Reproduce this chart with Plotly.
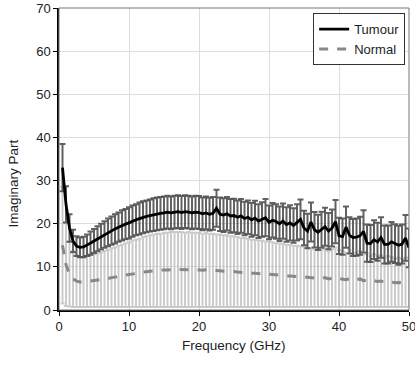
import numpy as np
import plotly.graph_objects as go

# Frequency grid (GHz): 0.5 .. 50 in 0.5 steps
freq = np.arange(1, 101) * 0.5

tumour_mean = [
    33.0, 24.5, 19.0, 16.0, 14.8, 14.5, 14.6, 15.0, 15.5, 16.0,
    16.5, 17.0, 17.5, 18.0, 18.4, 18.8, 19.2, 19.6, 19.9, 20.2,
    20.6, 20.9, 21.2, 21.5, 21.7, 21.9, 22.1, 22.3, 22.4, 22.5,
    22.7, 22.5, 22.7, 22.8, 22.6, 22.8, 22.7, 22.5, 22.7, 22.6,
    22.3, 22.5, 22.2, 22.4, 23.6, 22.2, 22.0, 22.3, 21.8, 21.9,
    21.5, 21.8, 21.2, 21.5, 20.9, 21.3, 20.6, 21.0, 21.4, 20.3,
    20.8, 20.5, 20.0, 20.6, 19.8, 20.2, 19.6, 20.3, 21.0, 19.0,
    18.3, 20.4, 18.6, 18.0, 18.6, 19.3, 18.3, 19.0, 20.5, 17.2,
    17.0, 19.2, 17.3, 16.8, 16.9, 17.2, 18.2, 15.5, 15.4, 16.3,
    15.8, 16.8, 15.2, 15.2, 15.8, 15.4, 15.0, 15.3, 16.7, 14.4,
]
tumour_sd = [
    5.5, 4.2, 3.2, 2.6, 2.3, 2.3, 2.4, 2.5, 2.7, 2.8,
    2.9, 3.0, 3.1, 3.2, 3.3, 3.4, 3.4, 3.5, 3.5, 3.6,
    3.6, 3.6, 3.7, 3.7, 3.7, 3.7, 3.8, 3.8, 3.8, 3.8,
    3.8, 3.8, 3.8, 3.8, 3.8, 3.8, 3.8, 3.8, 3.8, 3.8,
    3.8, 3.8, 3.8, 3.8, 4.3, 3.9, 3.9, 3.9, 3.9, 3.9,
    3.9, 3.9, 3.9, 3.9, 3.9, 4.0, 3.9, 4.0, 4.3, 3.9,
    4.0, 4.0, 4.0, 4.1, 4.0, 4.1, 4.0, 4.2, 4.6, 4.0,
    4.0, 4.5, 4.1, 4.1, 4.2, 4.4, 4.2, 4.3, 5.0, 4.2,
    4.2, 4.8, 4.2, 4.3, 4.3, 4.4, 4.9, 4.3, 4.3, 4.5,
    4.4, 4.7, 4.4, 4.4, 4.6, 4.5, 4.5, 4.5, 5.3, 4.5,
]
normal_mean = [
    15.0, 10.5, 8.3, 7.2, 6.7, 6.5, 6.5, 6.6, 6.7, 6.8,
    6.9, 7.0, 7.2, 7.3, 7.5, 7.6, 7.8, 7.9, 8.1, 8.2,
    8.4, 8.5, 8.6, 8.8, 8.9, 9.0, 9.1, 9.2, 9.2, 9.3,
    9.3, 9.4, 9.4, 9.4, 9.4, 9.3, 9.4, 9.3, 9.3, 9.3,
    9.2, 9.3, 9.2, 9.2, 9.1, 9.1, 9.0, 9.0, 8.9, 8.9,
    8.8, 8.7, 8.7, 8.6, 8.5, 8.5, 8.4, 8.4, 8.3, 8.3,
    8.2, 8.1, 8.1, 8.0, 7.9, 7.9, 7.8, 7.8, 7.7, 7.7,
    7.6, 7.5, 7.4, 7.5, 7.3, 7.5, 7.2, 7.4, 7.6, 7.3,
    7.2, 7.0, 7.3, 6.9, 7.0, 7.2, 6.8, 6.9, 6.6, 6.8,
    6.6, 6.7, 6.4, 6.6, 6.5, 6.3, 6.4, 6.3, 6.4, 6.4,
]
normal_sd = [
    13.5, 9.6, 7.5, 6.5, 6.0, 5.8, 5.8, 5.9, 6.0, 6.1,
    6.2, 6.3, 6.5, 6.6, 6.8, 6.9, 7.1, 7.2, 7.4, 7.5,
    7.7, 7.8, 7.9, 8.1, 8.2, 8.3, 8.4, 8.5, 8.5, 8.6,
    8.6, 8.7, 8.7, 8.7, 8.7, 8.6, 8.7, 8.6, 8.6, 8.6,
    8.5, 8.6, 8.5, 8.5, 8.4, 8.4, 8.3, 8.3, 8.2, 8.2,
    8.1, 8.0, 8.0, 7.9, 7.8, 7.8, 7.7, 7.7, 7.6, 7.6,
    7.5, 7.4, 7.4, 7.3, 7.2, 7.2, 7.1, 7.1, 7.0, 7.0,
    6.9, 6.8, 6.7, 6.8, 6.6, 6.8, 6.5, 6.7, 6.9, 6.6,
    6.5, 6.3, 6.6, 6.2, 6.3, 6.5, 6.1, 6.2, 5.9, 6.1,
    5.9, 6.0, 5.7, 5.9, 5.8, 5.6, 5.7, 5.6, 5.7, 5.7,
]

x_ticks = [0, 10, 20, 30, 40, 50]
y_ticks = [0, 10, 20, 30, 40, 50, 60, 70]

FONT = "Liberation Sans, Arial, sans-serif"
fig = go.Figure()

# error bar layers
fig.add_trace(go.Scatter(
    x=freq, y=normal_mean, mode="markers",
    marker=dict(size=1, color="rgba(0,0,0,0)"),
    error_y=dict(type="data", array=normal_sd, visible=True,
                 color="rgba(185,185,185,0.75)", thickness=2, width=2),
    showlegend=False, hoverinfo="skip"))
fig.add_trace(go.Scatter(
    x=freq, y=tumour_mean, mode="markers",
    marker=dict(size=1, color="rgba(0,0,0,0)"),
    error_y=dict(type="data", array=tumour_sd, visible=True,
                 color="rgba(80,80,80,0.9)", thickness=2, width=3),
    showlegend=False, hoverinfo="skip"))

# mean lines
fig.add_trace(go.Scatter(
    x=freq, y=tumour_mean, mode="lines", name="Tumour",
    line=dict(color="black", width=2.8)))
fig.add_trace(go.Scatter(
    x=freq, y=normal_mean, mode="lines", name="Normal",
    line=dict(color="#888888", width=3, dash="dash")))

# frame (top/right lighter)
fig.add_shape(type="rect", xref="paper", yref="paper", x0=0, x1=1, y0=0, y1=1,
              line=dict(color="#777777", width=1), layer="above")

# y-axis title (sits slightly below the middle in the reference)
fig.add_annotation(text="Imaginary Part", xref="paper", yref="paper",
                   x=-0.13, y=0.417, xanchor="center", yanchor="middle",
                   textangle=-90, showarrow=False,
                   font=dict(size=13.5, family=FONT, color="#222222"))

# x-axis title
fig.add_annotation(text="Frequency (GHz)", xref="paper", yref="paper",
                   x=0.5, y=-0.119, xanchor="center", yanchor="middle",
                   showarrow=False,
                   font=dict(size=13.5, family=FONT, color="#222222"))

fig.update_layout(
    width=415, height=365,
    margin=dict(l=59, r=6, t=8, b=55, autoexpand=False),
    paper_bgcolor="white", plot_bgcolor="white",
    font=dict(family=FONT, size=13, color="#222222"),
    legend=dict(x=0.989, y=0.983, xanchor="right", yanchor="top",
                bgcolor="white", bordercolor="#333333", borderwidth=1,
                font=dict(size=13, family=FONT, color="#222222"),
                tracegroupgap=0),
    xaxis=dict(range=[0, 50], tickvals=x_ticks, ticks="outside", ticklen=4,
               tickcolor="black", showline=True, linecolor="black", linewidth=1.5,
               showgrid=True, gridcolor="#dddddd", gridwidth=1, zeroline=False,
               ticklabeloverflow="allow", automargin=False,
               tickfont=dict(size=13, family=FONT)),
    yaxis=dict(range=[0, 70], tickvals=y_ticks, ticks="outside", ticklen=4,
               tickcolor="black", showline=True, linecolor="black", linewidth=1.5,
               showgrid=True, gridcolor="#dddddd", gridwidth=1, zeroline=False,
               automargin=False,
               tickfont=dict(size=13, family=FONT)),
)

fig.write_html("out.html")
